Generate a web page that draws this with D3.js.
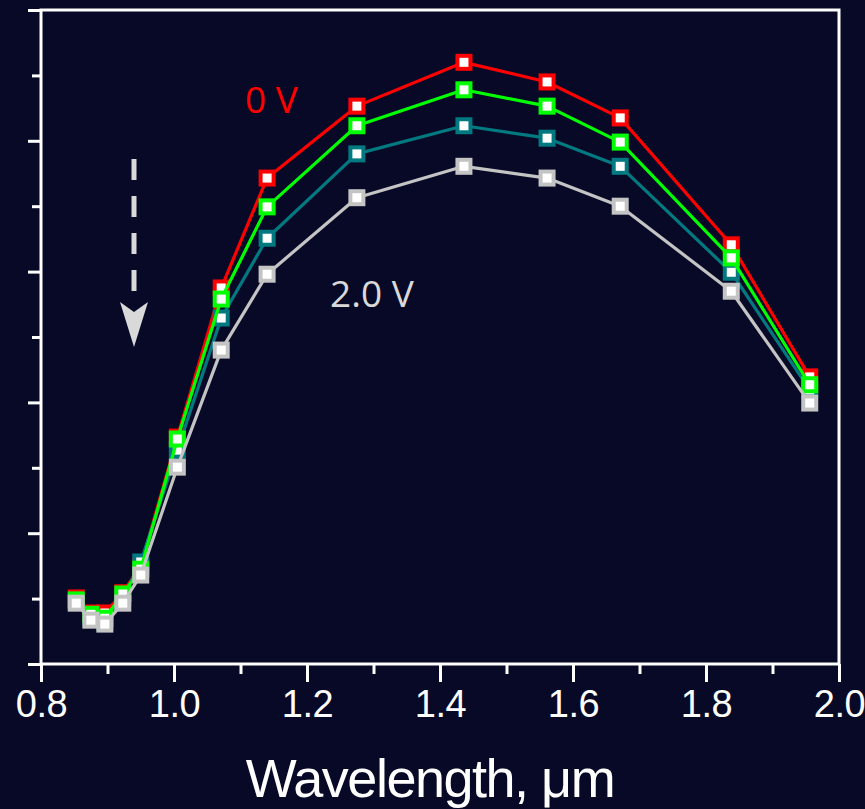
<!DOCTYPE html>
<html>
<head>
<meta charset="utf-8">
<script src="https://cdn.jsdelivr.net/npm/d3@7"></script>
<style>
  html, body { margin: 0; padding: 0; background: #070926; }
  svg { display: block; }
</style>
</head>
<body>
<script>
// ---- data ----
const wavelengths = [0.853, 0.875, 0.896, 0.923, 0.950, 1.005, 1.071, 1.140, 1.275, 1.436, 1.561, 1.671, 1.838, 1.956];
const seriesNames = ["0 V", "0.5 V", "1.0 V", "2.0 V"];
const red   = [1.01, 0.78, 0.78, 1.09, 1.50, 3.47, 5.75, 7.43, 8.53, 9.20, 8.90, 8.35, 6.41, 4.39];
const teal  = [0.95, 0.70, 0.64, 1.01, 1.56, 3.27, 5.29, 6.51, 7.80, 8.23, 8.04, 7.61, 5.99, 4.19];
const green = [0.98, 0.76, 0.70, 1.07, 1.45, 3.44, 5.58, 6.99, 8.23, 8.78, 8.53, 7.98, 6.21, 4.27];
const gray  = [0.93, 0.67, 0.61, 0.93, 1.36, 3.01, 4.80, 5.96, 7.13, 7.61, 7.43, 7.00, 5.70, 3.99];
const xMajorTicks = [0.8, 1.0, 1.2, 1.4, 1.6, 1.8, 2.0];
const xMinorTicks = [0.9, 1.1, 1.3, 1.5, 1.7, 1.9];
const yMajorTicks = [0, 2, 4, 6, 8, 10];
const yMinorTicks = [1, 3, 5, 7, 9];
const xTitle = "Wavelength, \u03bcm";

const W = 865, H = 809;
const bg = "#070926";
const svg = d3.select("body").append("svg").attr("width", W).attr("height", H);
svg.append("rect").attr("width", W).attr("height", H).attr("fill", bg);

const x = d3.scaleLinear().domain([0.8, 2.0]).range([41, 839]);
const y = d3.scaleLinear().domain([0, 10]).range([664, 10]);

const axisColor = "#ffffff";
const fontTick = "'Liberation Sans', Arial, sans-serif";

// frame
svg.append("rect")
  .attr("x", x(0.8)).attr("y", y(10))
  .attr("width", x(2.0) - x(0.8)).attr("height", y(0) - y(10))
  .attr("fill", "none").attr("stroke", axisColor).attr("stroke-width", 3);

// bottom axis
const gx = svg.append("g").attr("transform", `translate(0,${y(0)})`);
gx.call(d3.axisBottom(x).tickValues(xMajorTicks).tickSize(18).tickPadding(8).tickFormat(d3.format(".1f")));
gx.select(".domain").remove();
gx.selectAll(".tick line").attr("stroke", axisColor).attr("stroke-width", 3);
gx.selectAll(".tick text").attr("fill", "#ffffff").attr("font-family", fontTick)
  .attr("font-size", 38).attr("letter-spacing", -0.5).attr("dy", "0.71em");
const gxm = svg.append("g").attr("transform", `translate(0,${y(0)})`);
gxm.call(d3.axisBottom(x).tickValues(xMinorTicks).tickSize(10).tickFormat(""));
gxm.select(".domain").remove();
gxm.selectAll(".tick line").attr("stroke", axisColor).attr("stroke-width", 3);

// left axis
const gy = svg.append("g").attr("transform", `translate(${x(0.8)},0)`);
gy.call(d3.axisLeft(y).tickValues(yMajorTicks).tickSize(13).tickFormat(""));
gy.select(".domain").remove();
gy.selectAll(".tick line").attr("stroke", axisColor).attr("stroke-width", 3);
const gym = svg.append("g").attr("transform", `translate(${x(0.8)},0)`);
gym.call(d3.axisLeft(y).tickValues(yMinorTicks).tickSize(9).tickFormat(""));
gym.select(".domain").remove();
gym.selectAll(".tick line").attr("stroke", axisColor).attr("stroke-width", 3);

// x title
svg.append("text").attr("x", 430).attr("y", 797).attr("text-anchor", "middle")
  .attr("fill", "#ffffff").attr("font-family", fontTick).attr("font-size", 54)
  .attr("letter-spacing", -1.5).text(xTitle);

// dashed arrow
const arrowColor = "#d9d9d9";
svg.append("line").attr("x1", 134).attr("x2", 134).attr("y1", 159).attr("y2", 300)
  .attr("stroke", arrowColor).attr("stroke-width", 5).attr("stroke-dasharray", "21,16");
svg.append("path").attr("d", "M120,302 L134,312 L148,302 L134,347 Z").attr("fill", arrowColor);

// series
const series = [
  {name: seriesNames[0], values: red, color: "#ff0000"},
  {name: seriesNames[2], values: teal, color: "#007a80"},
  {name: seriesNames[1], values: green, color: "#00ff00"},
  {name: seriesNames[3], values: gray, color: "#c4c4c4"}
];
const line = d3.line().x((d, i) => x(wavelengths[i])).y(d => y(d));
const ms = 13; // marker size (stroke centre)
series.forEach(s => {
  const g = svg.append("g");
  g.append("path").datum(s.values).attr("d", line)
    .attr("fill", "none").attr("stroke", s.color).attr("stroke-width", 3.2)
    .attr("stroke-linejoin", "round");
  g.selectAll("rect").data(s.values).join("rect")
    .attr("x", (d, i) => x(wavelengths[i]) - ms / 2)
    .attr("y", d => y(d) - ms / 2)
    .attr("width", ms).attr("height", ms)
    .attr("fill", "#ffffff").attr("stroke", s.color).attr("stroke-width", 4);
});

// series labels
const fontLabel = "'Open Sans', 'DejaVu Sans', sans-serif";
svg.append("text").attr("x", 245).attr("y", 113).attr("fill", "#ff0000")
  .attr("font-family", fontLabel).attr("font-size", 37).text("0 V");
svg.append("text").attr("x", 330).attr("y", 307).attr("fill", "#d9d9d9")
  .attr("font-family", fontLabel).attr("font-size", 37).text("2.0 V");
</script>
</body>
</html>
